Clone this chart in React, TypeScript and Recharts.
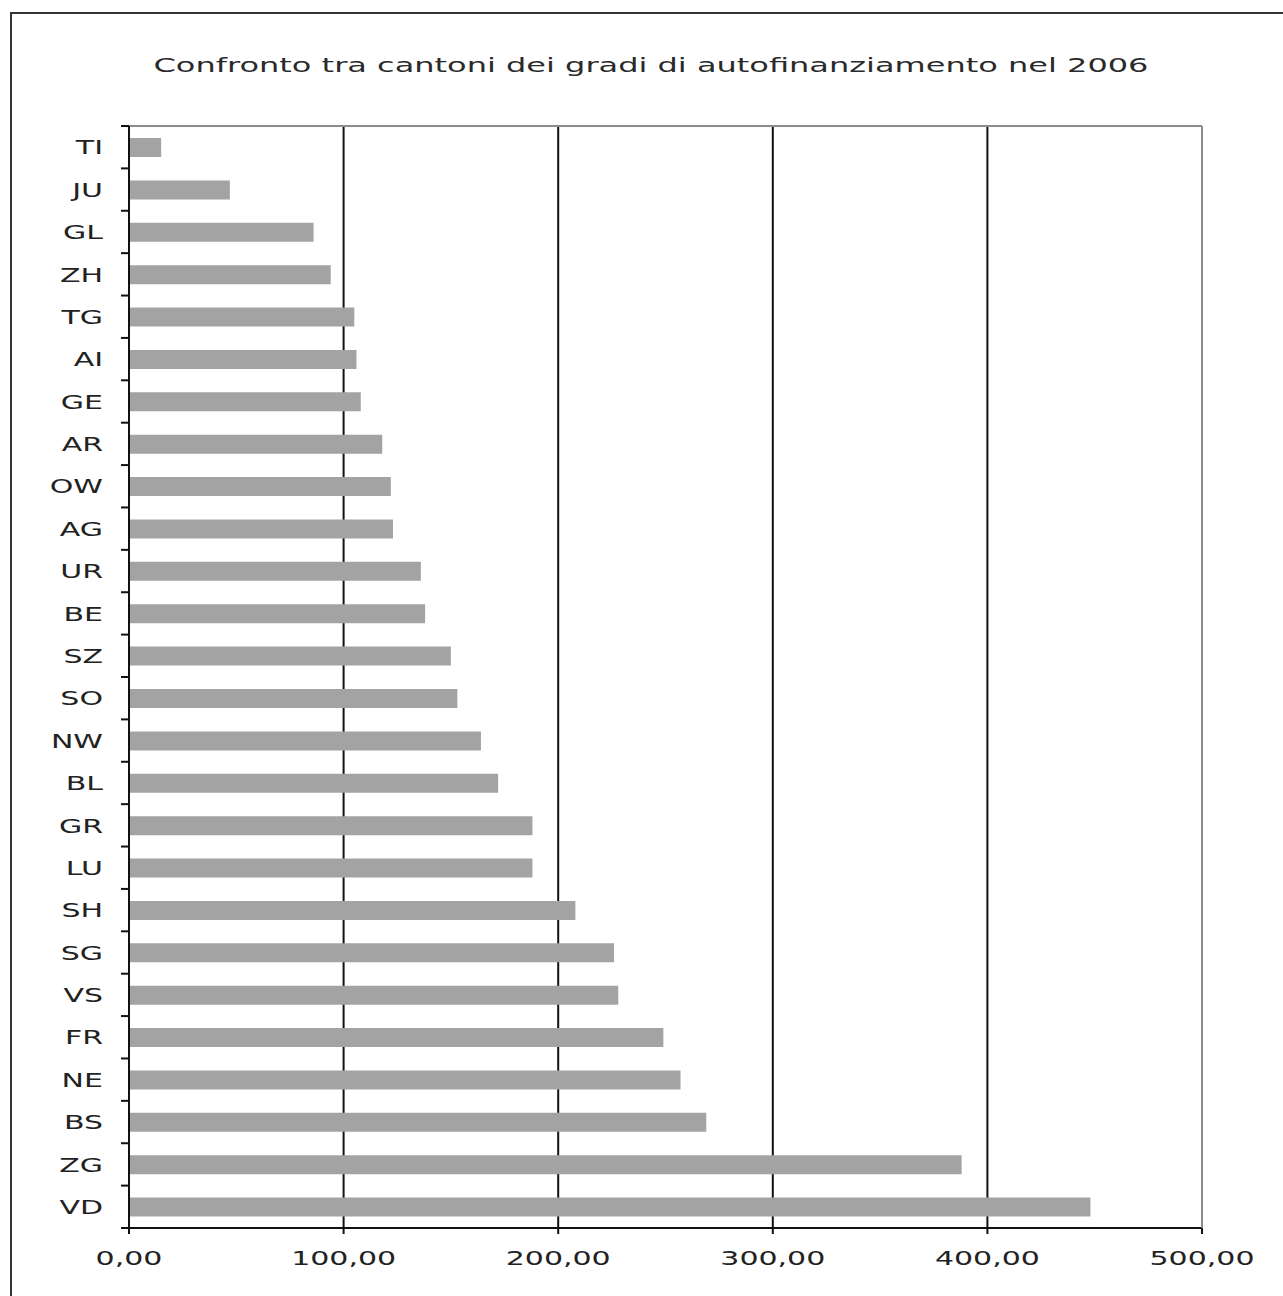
import React from 'react'
import { Bar, BarChart, CartesianGrid, ReferenceLine, XAxis, YAxis } from 'recharts'

// Gradi di autofinanziamento 2006 per cantone (%), dall'alto verso il basso
const cantoni = [
  'TI', 'JU', 'GL', 'ZH', 'TG', 'AI', 'GE', 'AR', 'OW', 'AG', 'UR', 'BE', 'SZ',
  'SO', 'NW', 'BL', 'GR', 'LU', 'SH', 'SG', 'VS', 'FR', 'NE', 'BS', 'ZG', 'VD',
]
const gradi = [
  15, 47, 86, 94, 105, 106, 108, 118, 122, 123, 136, 138, 150,
  153, 164, 172, 188, 188, 208, 226, 228, 249, 257, 269, 388, 448,
]
const xTicks = [0, 100, 200, 300, 400, 500]

const titolo = 'Confronto tra cantoni dei gradi di autofinanziamento nel 2006'

const W = 1283
const H = 1296
const TOP = 126
const BOTTOM = 68
const LEFT = 129
const RIGHT = 81
const PLOT_H = H - TOP - BOTTOM

const FONT = '"DejaVu Sans", Verdana, sans-serif'
const INK = '#222'

const data = cantoni.map((c, i) => ({ cantone: c, grado: gradi[i] }))

const fmt = (v: number) => v.toFixed(2).replace('.', ',')

function CantoneTick({ x, y, payload }: { x: number; y: number; payload: { value: string } }) {
  const band = PLOT_H / cantoni.length
  const ultimo = payload.value === cantoni[cantoni.length - 1]
  return (
    <g>
      <line x1={x - 8} x2={x} y1={y - band / 2} y2={y - band / 2} stroke="#111" strokeWidth={2} />
      {ultimo && (
        <line x1={x - 8} x2={x} y1={y + band / 2} y2={y + band / 2} stroke="#111" strokeWidth={2} />
      )}
      <text
        transform={`translate(${x - 26},${y}) scale(1.5,1)`}
        textAnchor="end"
        dy="0.36em"
        fontSize={20}
        fontFamily={FONT}
        fill={INK}
      >
        {payload.value}
      </text>
    </g>
  )
}

function ValoreTick({ x, y, payload }: { x: number; y: number; payload: { value: number } }) {
  return (
    <text
      transform={`translate(${x},${y + 24}) scale(1.5,1)`}
      textAnchor="middle"
      dy="0.36em"
      fontSize={20}
      fontFamily={FONT}
      fill={INK}
    >
      {fmt(payload.value)}
    </text>
  )
}

export default function App() {
  return (
    <div
      style={{
        position: 'fixed',
        left: 0,
        top: 0,
        width: W,
        height: H,
        overflow: 'hidden',
        background: '#fff',
        fontFamily: FONT,
      }}
    >
      {/* cornice esterna */}
      <div
        style={{
          position: 'absolute',
          left: 10,
          top: 12,
          width: W + 40,
          height: H + 40,
          border: '2px solid #333',
        }}
      />
      <div
        style={{
          position: 'absolute',
          left: 0,
          top: 53,
          width: 1302,
          textAlign: 'center',
          fontSize: 20,
          lineHeight: '24px',
          color: '#2a2a2a',
          transform: 'scaleX(1.6)',
          transformOrigin: '651px 12px',
          whiteSpace: 'nowrap',
        }}
      >
        {titolo}
      </div>
      <div style={{ position: 'absolute', left: 0, top: 0 }}>
        <BarChart
          width={W}
          height={H}
          data={data}
          layout="vertical"
          margin={{ top: 0, right: 0, bottom: 0, left: 0 }}
          barCategoryGap={0}
        >
          <CartesianGrid horizontal={false} stroke="#111" strokeWidth={2} />
          <XAxis
            type="number"
            domain={[0, 500]}
            ticks={xTicks}
            height={BOTTOM}
            axisLine={{ stroke: '#111', strokeWidth: 2 }}
            tickLine={{ stroke: '#111', strokeWidth: 2 }}
            tickSize={6}
            tickMargin={0}
            tick={ValoreTick}
            interval={0}
          />
          <XAxis
            xAxisId="top"
            orientation="top"
            type="number"
            domain={[0, 500]}
            height={TOP}
            tick={false}
            tickLine={false}
            axisLine={{ stroke: '#8c8c8c', strokeWidth: 2 }}
          />
          <YAxis
            type="category"
            dataKey="cantone"
            width={LEFT}
            axisLine={{ stroke: '#111', strokeWidth: 2 }}
            tickLine={false}
            tickSize={0}
            tickMargin={0}
            tick={CantoneTick}
            interval={0}
          />
          <YAxis
            yAxisId="right"
            orientation="right"
            type="category"
            dataKey="cantone"
            width={RIGHT}
            tick={false}
            tickLine={false}
            axisLine={{ stroke: '#8c8c8c', strokeWidth: 2 }}
          />
          <ReferenceLine x={500} stroke="#8c8c8c" strokeWidth={2} />
          <Bar dataKey="grado" fill="#a3a3a3" barSize={19} isAnimationActive={false} />
        </BarChart>
      </div>
    </div>
  )
}
